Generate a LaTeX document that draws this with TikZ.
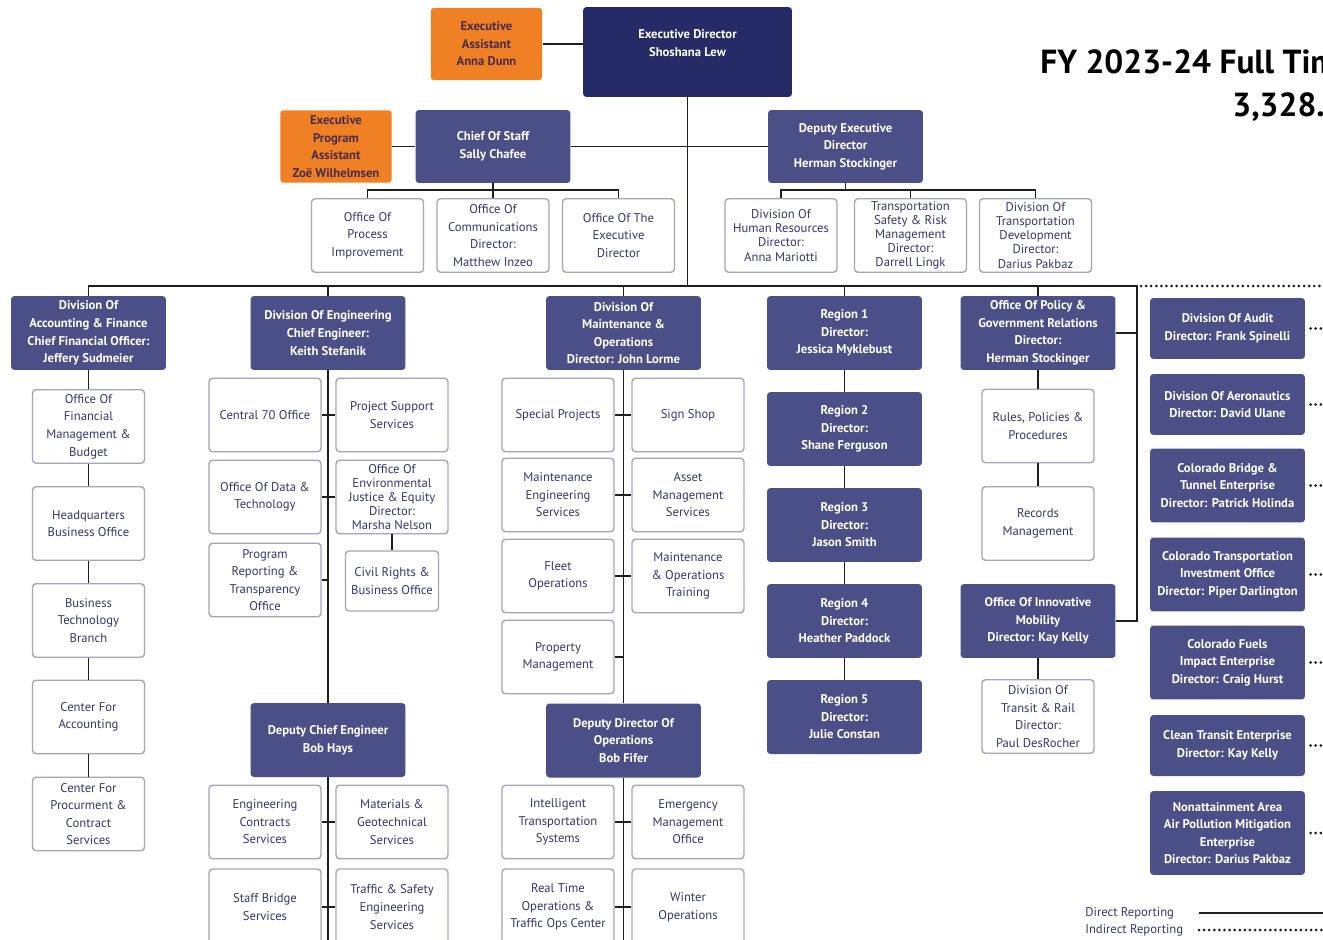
\documentclass[tikz,border=0pt]{standalone}
\usepackage{fontspec}
\setmainfont{PT Sans}
\usetikzlibrary{positioning}

\definecolor{topnavy}{HTML}{242B67}
\definecolor{slate}{HTML}{4B4F88}
\definecolor{aideorange}{HTML}{EF8024}
\definecolor{aidetext}{HTML}{4A2C4C}
\definecolor{boxline}{HTML}{A3A6BA}
\definecolor{txtnavy}{HTML}{34386A}
\definecolor{linecol}{HTML}{1E1E1E}

\begin{document}
\begin{tikzpicture}[
    x=0.02cm, y=-0.02cm,
    every node/.style={align=center, inner sep=1pt, font=\fontsize{7.2}{10}\selectfont},
    lead/.style={fill=topnavy, text=white, rounded corners=2pt, font=\fontsize{7.2}{10}\selectfont\bfseries},
    unit/.style={fill=slate, text=white, rounded corners=2pt, minimum width=3.1cm, minimum height=1.48cm, font=\fontsize{7.2}{10}\selectfont\bfseries},
    aide/.style={fill=aideorange, text=aidetext, rounded corners=2pt, minimum width=2.23cm, minimum height=1.45cm, font=\fontsize{7.2}{10}\selectfont\bfseries},
    office/.style={draw=boxline, line width=0.8pt, fill=white, text=txtnavy, rounded corners=2pt, minimum width=2.24cm, minimum height=1.47cm},
    tight/.style={font=\fontsize{7.2}{8}\selectfont},
    link/.style={draw=linecol, line width=1.1pt},
    indirect/.style={draw=linecol, line width=1.7pt, dash pattern=on 0pt off 2.9pt, line cap=round}
]
\useasboundingbox[fill=white] (0,0) rectangle (1323,940);

% Executive level
\node[lead, minimum width=4.18cm, minimum height=1.8cm] (ed) at (687.5,52) {Executive Director\\Shoshana Lew\\\mbox{}};
\node[aide] (ea) at (486.5,44) {Executive\\Assistant\\Anna Dunn};
\node[aide] (epa) at (336,146.5) {Executive\\Program\\Assistant\\Zoë Wilhelmsen};
\node[unit, minimum height=1.46cm] (cos) at (493,146.5) {Chief Of Staff\\Sally Chafee};
\node[unit, minimum height=1.46cm] (ded) at (845.5,146.5) {Deputy Executive\\Director\\Herman Stockinger};

\draw[link] (ea.east) -- (ea.east -| ed.west);
\draw[link] (epa) -- (cos);
\draw[link] (cos) -- (ded);

% Staff offices
\node[office] (opi) at (367.5,235.5) {Office Of\\Process\\Improvement};
\node[office] (ocm) at (493,235.5) {Office Of\\Communications\\Director:\\Matthew Inzeo};
\node[office] (oed) at (618.5,235.5) {Office Of The\\Executive\\Director};
\node[office, tight] (hr) at (781,235.5) {Division Of\\Human Resources\\Director:\\Anna Mariotti};
\node[office, tight] (tsr) at (910.5,235.5) {Transportation\\Safety \& Risk\\Management\\Director:\\Darrell Lingk};
\node[office, tight] (dtd) at (1035.5,235.5) {Division Of\\Transportation\\Development\\Director:\\Darius Pakbaz};

\foreach \c in {opi,ocm,oed} \draw[link] (cos.south) -- ++(0,7) -| (\c.north);
\foreach \c in {hr,tsr,dtd} \draw[link] (ded.south) -- ++(0,7) -| (\c.north);

% Divisions
\node[unit] (acct) at (88.5,333) {Division Of\\Accounting \& Finance\\Chief Financial Officer:\\Jeffery Sudmeier};
\node[unit] (eng) at (328,333) {Division Of Engineering\\Chief Engineer:\\Keith Stefanik};
\node[unit] (mnt) at (623.5,333) {Division Of\\Maintenance \&\\Operations\\Director: John Lorme};
\node[unit] (r1) at (844.5,333) {Region 1\\Director:\\Jessica Myklebust};
\node[unit] (pol) at (1038,333) {Office Of Policy \&\\Government Relations\\Director:\\Herman Stockinger};

\coordinate (bus) at (687.5,286);
\coordinate (busR) at (1137,286);
\coordinate (edgeR) at (1330,286);
\draw[link] (ed.south) -- (bus);
\foreach \c in {acct,eng,mnt,r1,pol} \draw[link] (bus) -| (\c.north);

% Accounting column
\node[office] (ofm) at (88.5,426.5) {Office Of\\Financial\\Management \&\\Budget};
\node[office] (hqb) at (88.5,523.5) {Headquarters\\Business Office};
\node[office] (btb) at (88.5,620.5) {Business\\Technology\\Branch};
\node[office] (cfa) at (88.5,717) {Center For\\Accounting};
\node[office] (cpc) at (88.5,814) {Center For\\Procurment \&\\Contract\\Services};

\draw[link] (acct) -- (ofm) -- (hqb) -- (btb) -- (cfa) -- (cpc);

% Engineering column
\node[office] (c70) at (265,415) {Central 70 Office};
\node[office] (pss) at (392,415) {Project Support\\Services};
\node[office] (odt) at (265,497) {Office Of Data \&\\Technology};
\node[office, tight] (oej) at (392,497) {Office Of\\Environmental\\Justice \& Equity\\Director:\\Marsha Nelson};
\node[office] (prt) at (265,580) {Program\\Reporting \&\\Transparency\\Office};
\node[office, minimum width=1.86cm, minimum height=1.2cm] (crb) at (392,581) {Civil Rights \&\\Business Office};
\node[unit] (dce) at (328,740) {Deputy Chief Engineer\\Bob Hays};
\node[office] (ecs) at (265,822) {Engineering\\Contracts\\Services};
\node[office] (mgs) at (392,822) {Materials \&\\Geotechnical\\Services};
\node[office, minimum height=1.52cm] (sbs) at (265,907) {Staff Bridge\\Services};
\node[office, minimum height=1.52cm] (tse) at (392,907) {Traffic \& Safety\\Engineering\\Services};

\draw[link] (eng) -- (dce);
\draw[link] (dce.south) -- ++(0,180);
\draw[link] (c70) -- (pss);
\draw[link] (odt) -- (oej);
\draw[link] (prt.east) -- (prt.east -| eng.south);
\draw[link] (oej) -- (crb);
\draw[link] (ecs) -- (mgs);
\draw[link] (sbs) -- (tse);

% Maintenance column
\node[office] (spr) at (558,415) {Special Projects};
\node[office] (ssh) at (688,415) {Sign Shop};
\node[office] (mes) at (558,495) {Maintenance\\Engineering\\Services};
\node[office] (ams) at (688,495) {Asset\\Management\\Services};
\node[office] (flo) at (558,576) {Fleet\\Operations};
\node[office] (mot) at (688,576) {Maintenance\\\& Operations\\Training};
\node[office] (prm) at (558,657) {Property\\Management};
\node[unit] (ddo) at (623.5,740.5) {Deputy Director Of\\Operations\\Bob Fifer};
\node[office] (its) at (558,822) {Intelligent\\Transportation\\Systems};
\node[office] (emo) at (688,822) {Emergency\\Management\\Office};
\node[office, minimum height=1.52cm] (rto) at (558,907) {Real Time\\Operations \&\\Traffic Ops Center};
\node[office, minimum height=1.52cm] (wop) at (688,907) {Winter\\Operations};

\draw[link] (mnt) -- (ddo);
\draw[link] (ddo.south) -- ++(0,180);
\draw[link] (spr) -- (ssh);
\draw[link] (mes) -- (ams);
\draw[link] (flo) -- (mot);
\draw[link] (prm.east) -- (prm.east -| mnt.south);
\draw[link] (its) -- (emo);
\draw[link] (rto) -- (wop);

% Regions
\node[unit] (r2) at (844.5,429) {Region 2\\Director:\\Shane Ferguson};
\node[unit] (r3) at (844.5,525) {Region 3\\Director:\\Jason Smith};
\node[unit] (r4) at (844.5,621) {Region 4\\Director:\\Heather Paddock};
\node[unit] (r5) at (844.5,717) {Region 5\\Director:\\Julie Constan};

\draw[link] (r1) -- (r2) -- (r3) -- (r4) -- (r5);

% Policy column
\node[office] (rpp) at (1038,426) {Rules, Policies \&\\Procedures};
\node[office] (rcm) at (1038,523.5) {Records\\Management};
\node[unit] (oim) at (1038,621) {Office Of Innovative\\Mobility\\Director: Kay Kelly};
\node[office] (dtr) at (1038,716.5) {Division Of\\Transit \& Rail\\Director:\\Paul DesRocher};

\draw[link] (pol) -- (rpp) -- (rcm);
\draw[link] (oim) -- (dtr);
\draw[link] (bus) -- (busR) -- (busR |- oim.east) -- (oim.east);
\draw[link] (pol.east) -- (pol.east -| busR);

% Indirect reporting
\node[unit, minimum height=1.22cm] (aud) at (1227.5,328.5) {Division Of Audit\\Director: Frank Spinelli};
\node[unit, minimum height=1.22cm] (aer) at (1227.5,404.5) {Division Of Aeronautics\\Director: David Ulane};
\node[unit] (cbt) at (1227.5,485.5) {Colorado Bridge \&\\Tunnel Enterprise\\Director: Patrick Holinda};
\node[unit] (cti) at (1227.5,574.5) {Colorado Transportation\\Investment Office\\Director: Piper Darlington};
\node[unit] (cfi) at (1227.5,662.5) {Colorado Fuels\\Impact Enterprise\\Director: Craig Hurst};
\node[unit, minimum height=1.22cm] (cte) at (1227.5,745.5) {Clean Transit Enterprise\\Director: Kay Kelly};
\node[unit, minimum height=1.68cm] (nap) at (1227.5,833) {Nonattainment Area\\Air Pollution Mitigation\\Enterprise\\Director: Darius Pakbaz};

\draw[indirect] (busR) ++(4,0) -- (edgeR);
\foreach \c in {aud,aer,cbt,cti,cfi,cte,nap} \draw[indirect, shorten <=3pt] (\c.east) -- (\c.east -| edgeR);

% Title
\node[anchor=west, inner sep=0pt, font=\fontsize{19}{22}\selectfont\bfseries] (title) at (1040,62) {FY 2023-24 Full Time};
\node[anchor=west, inner sep=0pt, font=\fontsize{19}{22}\selectfont\bfseries] (fte) at (1232,107) {3,328.};

% Legend
\node[anchor=west, inner sep=0pt, text=txtnavy] (ldir) at (1085,913) {Direct Reporting};
\node[anchor=west, inner sep=0pt, text=txtnavy] (lind) at (1085,930) {Indirect Reporting};
\coordinate (legD) at (1199,913);
\coordinate (legI) at (1199,930);
\draw[link] (legD) -- (legD -| edgeR);
\draw[indirect] (legI) -- (legI -| edgeR);

\end{tikzpicture}
\end{document}
